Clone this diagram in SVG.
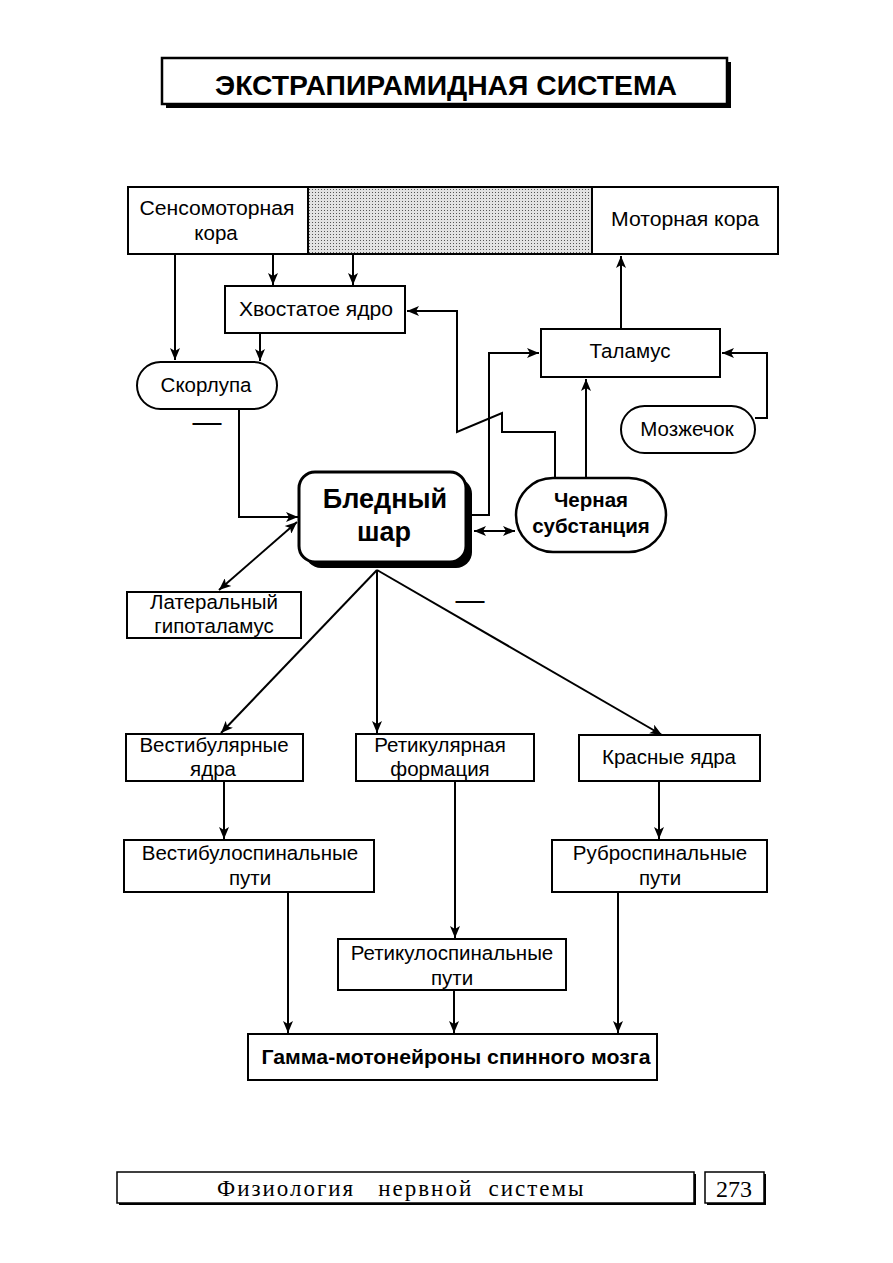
<svg xmlns="http://www.w3.org/2000/svg" width="893" height="1263" viewBox="0 0 893 1263">
<defs>
<style>
.box{fill:#fff;stroke:#000;stroke-width:2}
.t{font-family:"Liberation Sans",Arial,sans-serif;font-size:20.5px;fill:#000;text-anchor:middle}
.b{font-weight:bold}
.big{font-size:27px}
.ttl{font-size:28px}
.dash{font-size:29px}
.c{fill:none;stroke:#000;stroke-width:2}
.a{marker-end:url(#arr)}
.d{marker-start:url(#arr);marker-end:url(#arr)}
.serif{font-family:"Liberation Serif","Times New Roman",serif;fill:#000;text-anchor:middle}
</style>
<marker id="arr" viewBox="0 0 12 10" markerWidth="13" markerHeight="10" refX="12" refY="5" orient="auto-start-reverse" markerUnits="userSpaceOnUse">
<path d="M0,0 L12,5 L0,10 L3,5 Z" fill="#000"/>
</marker>
<pattern id="dots" width="3" height="3" patternUnits="userSpaceOnUse">
<rect width="3" height="3" fill="#e2e2e2"/>
<rect width="1" height="1" fill="#555"/>
</pattern>
</defs>
<rect width="893" height="1263" fill="#fff"/>

<g id="title">
<rect x="166" y="62" width="565" height="46" fill="#000"/>
<rect x="162" y="58" width="565" height="46" fill="#fff" stroke="#000" stroke-width="2.5"/>
<text class="t b ttl" x="446" y="95" textLength="462" lengthAdjust="spacingAndGlyphs">ЭКСТРАПИРАМИДНАЯ СИСТЕМА</text>
</g>

<g id="cortex">
<rect x="128" y="187" width="650" height="67" class="box"/>
<rect x="308" y="188" width="284" height="65" fill="url(#dots)"/>
<line x1="308" y1="187" x2="308" y2="254" stroke="#000" stroke-width="2"/>
<line x1="592" y1="187" x2="592" y2="254" stroke="#000" stroke-width="2"/>
</g>
<g id="sensomotor">
<text class="t" x="217" y="215" textLength="155" lengthAdjust="spacingAndGlyphs">Сенсомоторная</text>
<text class="t" x="216" y="240">кора</text>
</g>
<g id="motor">
<text class="t" x="685" y="226" textLength="148" lengthAdjust="spacingAndGlyphs">Моторная кора</text>
</g>

<g id="caudate">
<rect x="225" y="286" width="180" height="47" class="box"/>
<text class="t" x="316" y="316" textLength="154" lengthAdjust="spacingAndGlyphs">Хвостатое ядро</text>
</g>
<g id="putamen">
<rect x="137" y="362" width="140" height="47" rx="23.5" class="box"/>
<text class="t" x="206" y="392">Скорлупа</text>
</g>
<g id="thalamus">
<rect x="541" y="329" width="179" height="48" class="box"/>
<text class="t" x="630" y="358">Таламус</text>
</g>
<g id="cerebellum">
<rect x="621" y="406" width="134" height="47" rx="23.5" class="box"/>
<text class="t" x="687" y="436">Мозжечок</text>
</g>
<g id="globus">
<rect x="305" y="478" width="167" height="90" rx="16" fill="#000"/>
<rect x="299" y="472" width="167" height="90" rx="16" fill="#fff" stroke="#000" stroke-width="3"/>
<text class="t b big" x="385" y="508">Бледный</text>
<text class="t b big" x="384" y="541">шар</text>
</g>
<g id="nigra">
<rect x="516" y="478" width="150" height="74" rx="37" fill="#fff" stroke="#000" stroke-width="2.5"/>
<text class="t b" x="591" y="507">Черная</text>
<text class="t b" x="591" y="533">субстанция</text>
</g>
<g id="lat-hypothalamus">
<rect x="127" y="592" width="174" height="46" class="box"/>
<text class="t" x="214" y="609">Латеральный</text>
<text class="t" x="214" y="633">гипоталамус</text>
</g>
<g id="vestibular">
<rect x="126" y="734" width="177" height="47" class="box"/>
<text class="t" x="214" y="752">Вестибулярные</text>
<text class="t" x="213" y="776">ядра</text>
</g>
<g id="reticular">
<rect x="356" y="734" width="178" height="47" class="box"/>
<text class="t" x="440" y="752">Ретикулярная</text>
<text class="t" x="440" y="776">формация</text>
</g>
<g id="red">
<rect x="579" y="735" width="181" height="46" class="box"/>
<text class="t" x="669" y="764">Красные ядра</text>
</g>
<g id="vestibulospinal">
<rect x="124" y="840" width="250" height="52" class="box"/>
<text class="t" x="250" y="860">Вестибулоспинальные</text>
<text class="t" x="250" y="885">пути</text>
</g>
<g id="rubrospinal">
<rect x="552" y="840" width="215" height="52" class="box"/>
<text class="t" x="660" y="860">Руброспинальные</text>
<text class="t" x="660" y="885">пути</text>
</g>
<g id="reticulospinal">
<rect x="338" y="939" width="228" height="51" class="box"/>
<text class="t" x="452" y="960">Ретикулоспинальные</text>
<text class="t" x="452" y="985">пути</text>
</g>
<g id="gamma">
<rect x="248" y="1034" width="409" height="46" class="box"/>
<text class="t b" x="456" y="1064" textLength="389" lengthAdjust="spacingAndGlyphs">Гамма-мотонейроны спинного мозга</text>
</g>

<g id="signs">
<text class="t dash" x="207" y="432">—</text>
<text class="t dash" x="470" y="610">—</text>
</g>

<g id="connectors">
<line x1="175" y1="254" x2="175" y2="360" class="c a"/>
<line x1="273" y1="254" x2="273" y2="285" class="c a"/>
<line x1="353" y1="254" x2="353" y2="285" class="c a"/>
<line x1="260" y1="333" x2="260" y2="361" class="c a"/>
<path d="M239,409 V517 H298" class="c a"/>
<line x1="297" y1="522" x2="219" y2="590" class="c d"/>
<path d="M466,515 H489 V353 H539" class="c a"/>
<path d="M555,477 V432 H502 V413 L457,432 V311 H407" class="c a"/>
<line x1="586" y1="478" x2="586" y2="379" class="c a"/>
<path d="M755,418 H767 V353 H722" class="c a"/>
<line x1="621" y1="329" x2="621" y2="256" class="c a"/>
<line x1="474" y1="531" x2="515" y2="531" class="c d"/>
<line x1="377" y1="570" x2="221" y2="733" class="c a"/>
<line x1="377" y1="570" x2="377" y2="733" class="c a"/>
<line x1="377" y1="570" x2="662" y2="735" class="c a"/>
<line x1="224" y1="781" x2="224" y2="839" class="c a"/>
<line x1="455" y1="781" x2="455" y2="938" class="c a"/>
<line x1="659" y1="781" x2="659" y2="839" class="c a"/>
<line x1="288" y1="892" x2="288" y2="1033" class="c a"/>
<line x1="454" y1="990" x2="454" y2="1033" class="c a"/>
<line x1="618" y1="892" x2="618" y2="1033" class="c a"/>
</g>

<g id="footer">
<rect x="119" y="1174" width="577" height="31" fill="#000"/>
<rect x="117" y="1172" width="577" height="31" fill="#fff" stroke="#000" stroke-width="1.5"/>
<text class="serif" x="401" y="1196" font-size="23" letter-spacing="1.5" xml:space="preserve" textLength="368" lengthAdjust="spacing">Физиология   нервной  системы</text>
<rect x="707" y="1174" width="59" height="31" fill="#000"/>
<rect x="705" y="1172" width="59" height="31" fill="#fff" stroke="#000" stroke-width="1.5"/>
<text class="serif" x="734" y="1197" font-size="24">273</text>
</g>
</svg>
